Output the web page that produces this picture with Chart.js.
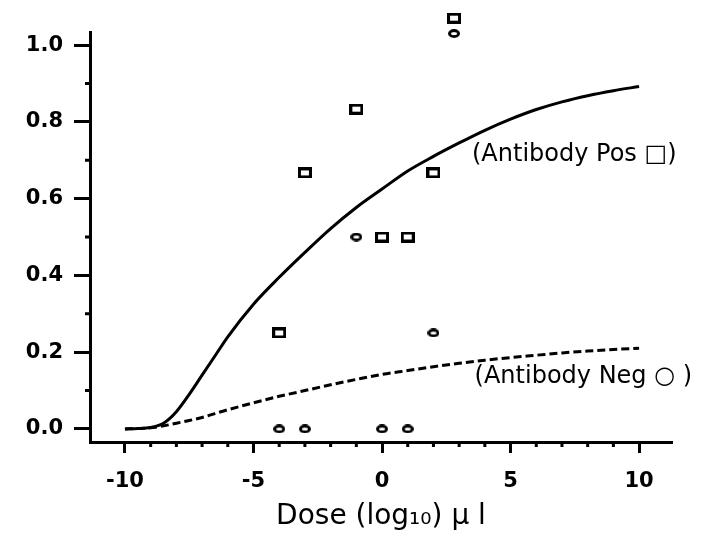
<!DOCTYPE html>
<html>
<head>
<meta charset="utf-8">
<script src="https://cdn.jsdelivr.net/npm/chart.js@4"></script>
<style>
  body { margin: 0; background: #fff; }
  #wrap { width: 704px; height: 534px; }
</style>
</head>
<body>
<div id="wrap"><canvas id="chart" width="704" height="534"></canvas></div>
<script>
// observed points
const posPoints = [
  { x: -4, y: 0.25 }, { x: -3, y: 0.667 }, { x: -1, y: 0.833 }, { x: 0, y: 0.5 },
  { x: 1, y: 0.5 }, { x: 2, y: 0.667 }, { x: 2.8, y: 1.07 }
]
const negPoints = [
  { x: -4, y: 0 }, { x: -3, y: 0 }, { x: 0, y: 0 }, { x: 1, y: 0 },
  { x: -1, y: 0.5 }, { x: 2, y: 0.25 }, { x: 2.8, y: 1.03 }
]

// fitted curves
const curveX = [-10, -9.5, -9, -8.5, -8, -7.5, -7, -6.5, -6, -5, -4, -3, -2, -1, 0, 1, 2, 3, 4, 5, 6, 7, 8, 9, 10]
const posCurveY = [0, 0.001, 0.004, 0.015, 0.045, 0.09, 0.14, 0.19, 0.24, 0.325, 0.395, 0.46, 0.522, 0.577, 0.625, 0.672, 0.71, 0.745, 0.778, 0.807, 0.832, 0.852, 0.868, 0.881, 0.892]
const negCurveY = [0, 0.001, 0.003, 0.008, 0.015, 0.022, 0.03, 0.04, 0.05, 0.068, 0.085, 0.1, 0.115, 0.129, 0.142, 0.152, 0.162, 0.171, 0.179, 0.186, 0.192, 0.198, 0.203, 0.207, 0.21]

const xTicks = [-10, -5, 0, 5, 10]
const xMinorTicks = [-9, -8, -7, -6, -4, -3, -2, -1, 1, 2, 3, 4, 6, 7, 8, 9]
const yTicks = [0, 0.2, 0.4, 0.6, 0.8, 1.0]
const yMinorTicks = [0.1, 0.3, 0.5, 0.7, 0.9]

const labels = [
  { text: "(Antibody Pos \u25A1)", x: 3.5, y: 0.714 },
  { text: "(Antibody Neg \u25CB )", x: 3.6, y: 0.135 }
]

function marker(w, h, shape) {
  const c = document.createElement("canvas")
  c.width = w
  c.height = h
  const g = c.getContext("2d")
  g.strokeStyle = "#000"
  g.lineWidth = 3
  if (shape === "rect") {
    g.strokeRect(1.5, 1.5, w - 3, h - 3)
  } else {
    g.beginPath()
    g.ellipse(w / 2, h / 2, w / 2 - 1.5, h / 2 - 1.5, 0, 0, Math.PI * 2)
    g.stroke()
  }
  return c
}

const toXY = (ys) => curveX.map((x, i) => ({ x: x, y: ys[i] }))

const minorTicks = {
  id: "minorTicks",
  afterDraw(chart) {
    const ctx = chart.ctx
    const xs = chart.scales.x
    const ys = chart.scales.y
    const area = chart.chartArea
    ctx.save()
    ctx.strokeStyle = "#000"
    ctx.lineWidth = 3
    ctx.beginPath()
    xMinorTicks.forEach(v => {
      const px = xs.getPixelForValue(v)
      ctx.moveTo(px, area.bottom)
      ctx.lineTo(px, area.bottom + 5)
    })
    yMinorTicks.forEach(v => {
      const py = ys.getPixelForValue(v)
      ctx.moveTo(area.left, py)
      ctx.lineTo(area.left - 5, py)
    })
    ctx.stroke()

    ctx.fillStyle = "#000"
    ctx.font = "24px 'DejaVu Sans'"
    ctx.textBaseline = "middle"
    labels.forEach(l => {
      ctx.fillText(l.text, xs.getPixelForValue(l.x), ys.getPixelForValue(l.y))
    })
    ctx.restore()
  }
}

new Chart(document.getElementById("chart"), {
  type: "scatter",
  data: {
    datasets: [
      {
        label: "Antibody Pos fit",
        data: toXY(posCurveY),
        showLine: true,
        borderColor: "#000",
        borderWidth: 3,
        pointRadius: 0,
        cubicInterpolationMode: "monotone"
      },
      {
        label: "Antibody Neg fit",
        data: toXY(negCurveY),
        showLine: true,
        borderColor: "#000",
        borderWidth: 3,
        borderDash: [8, 4],
        pointRadius: 0,
        cubicInterpolationMode: "monotone"
      },
      {
        label: "Antibody Pos",
        data: posPoints,
        pointStyle: marker(14, 11, "rect"),
        pointRadius: 20,
        clip: false
      },
      {
        label: "Antibody Neg",
        data: negPoints,
        pointStyle: marker(12, 9, "circle"),
        pointRadius: 20,
        clip: false
      }
    ]
  },
  options: {
    responsive: false,
    animation: false,
    layout: { padding: { left: 0, right: 32, top: 32, bottom: 0 } },
    plugins: {
      legend: { display: false },
      tooltip: { enabled: false }
    },
    scales: {
      x: {
        type: "linear",
        min: -11.36,
        max: 11.28,
        afterBuildTicks: (s) => { s.ticks = xTicks.map(v => ({ value: v })) },
        afterFit: (s) => { s.height = 92 },
        border: { color: "#000", width: 3 },
        grid: { drawOnChartArea: false, tickLength: 11, tickWidth: 3, tickColor: "#000" },
        ticks: {
          color: "#000",
          padding: 16,
          font: { family: "DejaVu Sans", size: 21, weight: "bold" }
        },
        title: {
          display: true,
          text: "Dose (log\u2081\u2080) \u03BC l",
          color: "#000",
          padding: { top: 0, bottom: 0 },
          font: { family: "DejaVu Sans", size: 28 }
        }
      },
      y: {
        type: "linear",
        min: -0.034,
        max: 1.034,
        afterBuildTicks: (s) => { s.ticks = yTicks.map(v => ({ value: v })) },
        afterFit: (s) => { s.width = 90 },
        border: { color: "#000", width: 3 },
        grid: { drawOnChartArea: false, tickLength: 16, tickWidth: 3, tickColor: "#000" },
        ticks: {
          color: "#000",
          padding: 11,
          callback: (v) => v.toFixed(1),
          font: { family: "DejaVu Sans", size: 21, weight: "bold" }
        }
      }
    }
  },
  plugins: [minorTicks]
})
</script>
</body>
</html>
